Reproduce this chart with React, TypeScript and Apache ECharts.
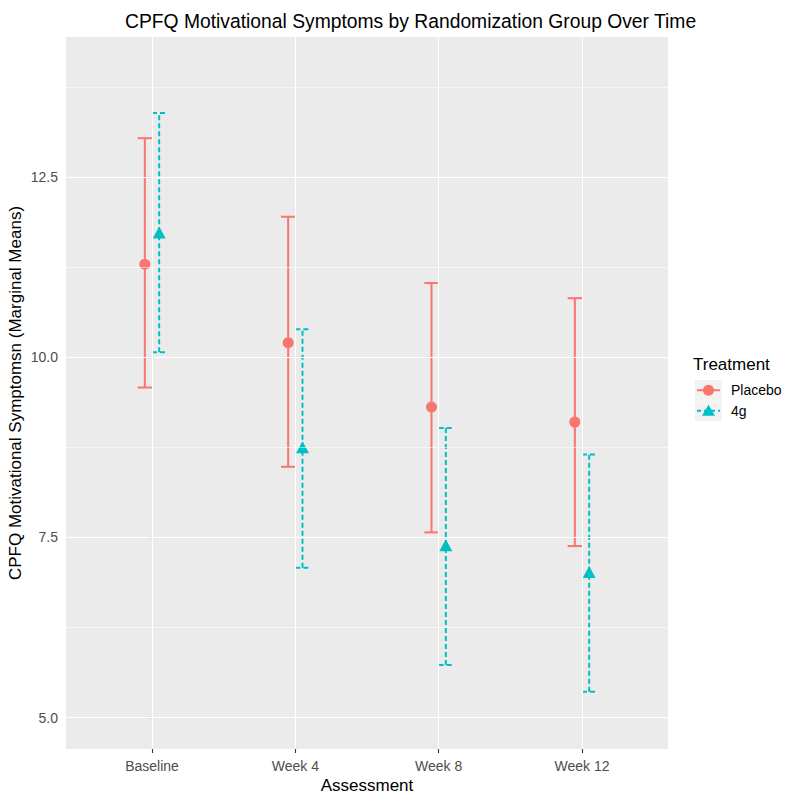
import React, { useEffect, useRef } from "react";
import * as echarts from "echarts";

const categories = ["Baseline", "Week 4", "Week 8", "Week 12"];
const groups = ["Placebo", "4g"];
const placeboMean = [11.29, 10.2, 9.31, 9.1];
const placeboLower = [9.58, 8.48, 7.57, 7.38];
const placeboUpper = [13.04, 11.95, 11.03, 10.82];
const fourGMean = [11.73, 8.75, 7.39, 7.02];
const fourGLower = [10.07, 7.08, 5.73, 5.36];
const fourGUpper = [13.39, 10.39, 9.02, 8.65];
const yTicks = [5, 7.5, 10, 12.5];
const yMinorTicks = [6.25, 8.75, 11.25, 13.75];

const colors = ["#F8766D", "#00BFC4"];
const dodge = [-0.05, 0.05];
const FONT = "'Liberation Sans', Arial, sans-serif";

export default function App() {
  const ref = useRef<HTMLDivElement>(null);
  useEffect(() => {
    document.body.style.margin = "0";
    if (!ref.current) return;
    const chart = echarts.init(ref.current, undefined, { renderer: "svg" });
    const idx = categories.map((_, i) => i);
    const means = [placeboMean, fourGMean];
    const lows = [placeboLower, fourGLower];
    const highs = [placeboUpper, fourGUpper];

    const errSeries = groups.map((g, gi) => ({
      type: "custom",
      name: g,
      z: 3,
      silent: true,
      data: idx.map((i) => [i + dodge[gi], lows[gi][i], highs[gi][i]]),
      renderItem: (params: any, api: any) => {
        const x = api.value(0);
        const lo = api.coord([x, api.value(1)]);
        const hi = api.coord([x, api.value(2)]);
        const hw = api.size([0.05, 0])[0];
        const style = {
          stroke: colors[gi],
          lineWidth: 2,
          fill: null,
          lineDash: gi === 1 ? [5, 3] : null,
        };
        return {
          type: "group",
          children: [
            { type: "line", shape: { x1: lo[0], y1: lo[1], x2: hi[0], y2: hi[1] }, style },
            { type: "line", shape: { x1: hi[0] - hw, y1: hi[1], x2: hi[0] + hw, y2: hi[1] }, style },
            { type: "line", shape: { x1: lo[0] - hw, y1: lo[1], x2: lo[0] + hw, y2: lo[1] }, style },
          ],
        };
      },
    }));

    const pointSeries = groups.map((g, gi) => ({
      type: "scatter",
      name: g,
      z: 4,
      symbol: gi === 0 ? "circle" : "triangle",
      symbolSize: gi === 0 ? 11 : [13, 12],
      itemStyle: { color: colors[gi], opacity: 1 },
      data: idx.map((i) => [i + dodge[gi], means[gi][i]]),
    }));

    const gridSeries = {
      type: "line",
      z: 1,
      silent: true,
      data: [],
      markLine: {
        silent: true,
        symbol: ["none", "none"],
        label: { show: false },
        animation: false,
        data: [
          ...yMinorTicks.map((v) => ({ yAxis: v, lineStyle: { color: "#FFFFFF", width: 0.55, type: "solid" } })),
          ...yTicks.map((v) => ({ yAxis: v, lineStyle: { color: "#FFFFFF", width: 1.1, type: "solid" } })),
          ...idx.map((v) => ({ xAxis: v, lineStyle: { color: "#FFFFFF", width: 1.1, type: "solid" } })),
        ],
      },
    };

    const keyX = 695;
    const keyW = 27;
    const keyH = 20.5;
    const keyTop = 380;
    const legendGraphics: any[] = [
      {
        type: "text",
        x: 693,
        y: 364,
        style: { text: "Treatment", font: `17px ${FONT}`, fill: "#000", textVerticalAlign: "middle" },
      },
    ];
    groups.forEach((g, gi) => {
      const cy = keyTop + keyH * gi + keyH / 2;
      legendGraphics.push({
        type: "rect",
        shape: { x: keyX, y: keyTop + keyH * gi, width: keyW, height: keyH },
        style: { fill: "#F2F2F2" },
      });
      legendGraphics.push({
        type: "line",
        shape: { x1: keyX + 2, y1: cy, x2: keyX + keyW - 2, y2: cy },
        style: { stroke: colors[gi], lineWidth: 2, lineDash: gi === 1 ? [4, 3] : null },
      });
      if (gi === 0) {
        legendGraphics.push({
          type: "circle",
          shape: { cx: keyX + keyW / 2, cy, r: 5.5 },
          style: { fill: colors[gi] },
        });
      } else {
        legendGraphics.push({
          type: "polygon",
          shape: {
            points: [
              [keyX + keyW / 2, cy - 6],
              [keyX + keyW / 2 - 6.5, cy + 5],
              [keyX + keyW / 2 + 6.5, cy + 5],
            ],
          },
          style: { fill: colors[gi] },
        });
      }
      legendGraphics.push({
        type: "text",
        x: 731,
        y: cy,
        style: { text: g, font: `14px ${FONT}`, fill: "#000", textVerticalAlign: "middle" },
      });
    });

    chart.setOption({
      animation: false,
      backgroundColor: "#FFFFFF",
      textStyle: { fontFamily: FONT },
      title: {
        text: "CPFQ Motivational Symptoms by Randomization Group Over Time",
        left: 120,
        top: 7,
        textStyle: { fontSize: 19.3, fontWeight: "normal", color: "#000", fontFamily: FONT },
      },
      grid: {
        left: 66,
        right: 122,
        top: 37,
        bottom: 55,
        show: true,
        backgroundColor: "#EBEBEB",
        borderWidth: 0,
        containLabel: false,
        outerBoundsMode: "none",
      },
      xAxis: {
        type: "value",
        min: -0.6,
        max: 3.6,
        name: "Assessment",
        nameLocation: "middle",
        nameGap: 28,
        nameMoveOverlap: false,
        nameTextStyle: { fontSize: 17, color: "#000", fontFamily: FONT },
        axisLine: { show: false },
        splitLine: { show: false },
        axisTick: { show: true, length: 4, customValues: idx, lineStyle: { color: "#333333", width: 1.1 } },
        axisLabel: {
          customValues: idx,
          formatter: (v: number) => categories[Math.round(v)] ?? "",
          fontSize: 14,
          color: "#4D4D4D",
          margin: 10,
          fontFamily: FONT,
        },
      },
      yAxis: {
        type: "value",
        min: 4.564,
        max: 14.444,
        name: "CPFQ Motivational Symptomsn (Marginal Means)",
        nameLocation: "middle",
        nameRotate: 90,
        nameGap: 42,
        nameMoveOverlap: false,
        nameTextStyle: { fontSize: 17, color: "#000", fontFamily: FONT },
        axisLine: { show: false },
        splitLine: { show: false },
        axisTick: { show: true, length: 4, customValues: yTicks, lineStyle: { color: "#333333", width: 1.1 } },
        axisLabel: {
          customValues: yTicks,
          formatter: (v: number) => v.toFixed(1),
          fontSize: 14,
          color: "#4D4D4D",
          margin: 8,
          fontFamily: FONT,
        },
      },
      graphic: legendGraphics,
      series: [gridSeries, ...errSeries, ...pointSeries],
    });
    return () => chart.dispose();
  }, []);
  return <div ref={ref} style={{ width: 790, height: 804 }} />;
}
